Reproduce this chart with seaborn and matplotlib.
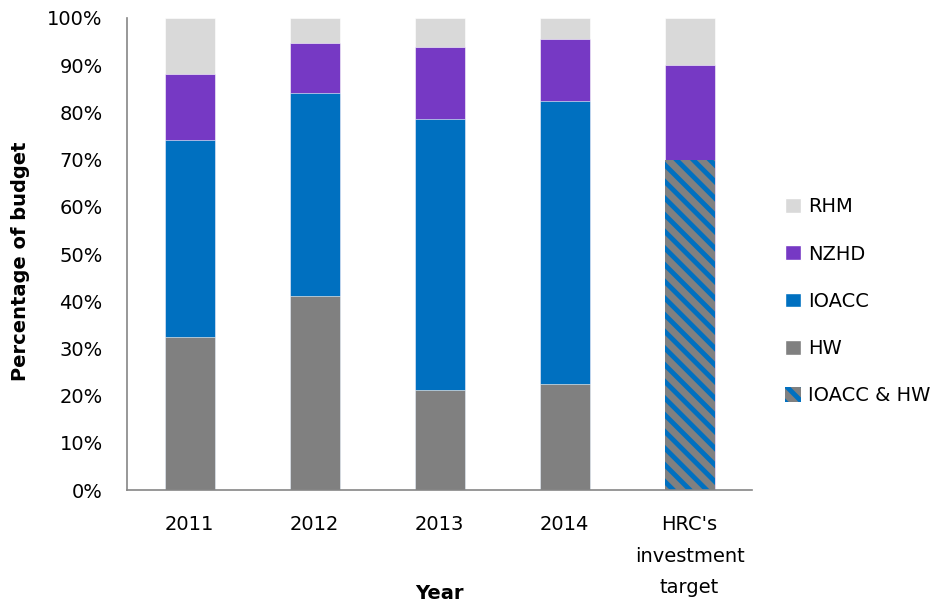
import numpy as np
import pandas as pd
import seaborn as sns
import matplotlib.pyplot as plt
from matplotlib.patches import Patch
from matplotlib.ticker import PercentFormatter

categorias = ["2011", "2012", "2013", "2014", "HRC's\ninvestment\ntarget"]
hw = [32.4, 41.2, 21.2, 22.5, 0.0]
ioacc = [41.8, 42.9, 57.4, 59.9, 0.0]
ioacc_hw = [0.0, 0.0, 0.0, 0.0, 70.0]
nzhd = [13.9, 10.6, 15.3, 13.2, 20.0]
rhm = [11.9, 5.3, 6.1, 4.4, 10.0]

cores = {"RHM": "#D9D9D9", "NZHD": "#7639C4", "IOACC": "#0070C0", "HW": "#808080"}

df = pd.DataFrame({"cat": categorias, "HW": hw, "IOACC": ioacc, "IOACC_HW": ioacc_hw,
                   "NZHD": nzhd, "RHM": rhm})
# somas acumuladas para empilhar as barras por sobreposicao
df["c_hw"] = df["HW"]
df["c_comb"] = df["IOACC_HW"]
df["c_ioacc"] = df["HW"] + df["IOACC"]
df["c_nzhd"] = df["c_ioacc"] + df["c_comb"] + df["NZHD"]
df["c_rhm"] = df["c_nzhd"] + df["RHM"]

sns.set_style("white", {"text.color": "black", "xtick.color": "black", "ytick.color": "black",
                        "axes.labelcolor": "black"})
plt.rcParams["font.family"] = ["DejaVu Sans"]
plt.rcParams["hatch.linewidth"] = 3.5

fig, ax = plt.subplots(figsize=(9.5, 6.08), dpi=100)
fig.subplots_adjust(left=0.1337, right=0.7916, top=0.9704, bottom=0.194)

camadas = [("c_rhm", cores["RHM"]), ("c_nzhd", cores["NZHD"]), ("c_ioacc", cores["IOACC"]),
           ("c_comb", cores["HW"]), ("c_hw", cores["HW"])]
for col, cor in camadas:
    n_antes = len(ax.patches)
    sns.barplot(data=df, x="cat", y=col, color=cor, width=0.4, saturation=1,
                edgecolor="white", linewidth=0.4, ax=ax)
    if col == "c_comb":
        for p in ax.patches[n_antes:]:
            p.set_hatch("\\\\")
            p.set_edgecolor("#0070C0")
            p.set_linewidth(0)

ax.set_ylim(0, 100)
ax.set_xlim(-0.5, 4.5)
ax.set_yticks(np.arange(0, 101, 10))
ax.yaxis.set_major_formatter(PercentFormatter(decimals=0))
ax.set_xticks(range(len(categorias)), labels=categorias, linespacing=1.84)
ax.set_xticks(np.arange(-0.5, 4.6, 1), minor=True)
ax.tick_params(axis="x", which="major", length=0, labelsize=14, pad=18)
ax.tick_params(axis="x", which="minor", length=7, width=1.2, color="#868686", direction="out")
ax.tick_params(axis="y", length=6.5, width=1.2, color="#868686", labelcolor="black",
               direction="out", labelsize=14, pad=11)
for s in ["top", "right"]:
    ax.spines[s].set_visible(False)
for s in ["left", "bottom"]:
    ax.spines[s].set_color("#868686")
    ax.spines[s].set_linewidth(1.2)

ax.set_xlabel("Year", fontsize=14, fontweight="bold")
ax.set_ylabel("Percentage of budget", fontsize=14, fontweight="bold")
ax.xaxis.set_label_coords(0.5, -0.2)
ax.yaxis.set_label_coords(-0.156, 0.485)

handles = [Patch(facecolor=cores["RHM"], label="RHM"),
           Patch(facecolor=cores["NZHD"], label="NZHD"),
           Patch(facecolor=cores["IOACC"], label="IOACC"),
           Patch(facecolor=cores["HW"], label="HW"),
           Patch(facecolor=cores["HW"], edgecolor="#0070C0", hatch="\\\\", linewidth=0, label="IOACC & HW")]
ax.legend(handles=handles, loc="center left", bbox_to_anchor=(1.025, 0.40), frameon=False,
          fontsize=14, labelspacing=1.45, handlelength=0.8, handleheight=0.8, handletextpad=0.4)

plt.savefig("out.png", dpi=100)
